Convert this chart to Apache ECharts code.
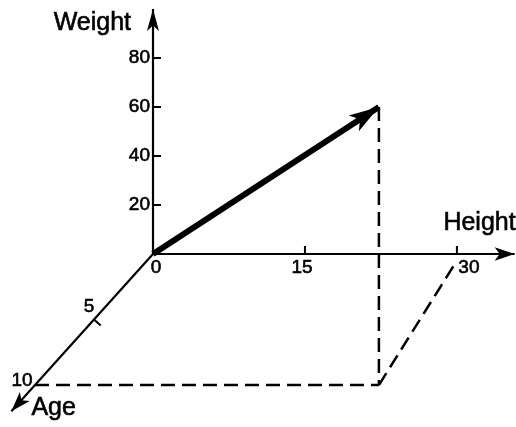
<!DOCTYPE html>
<html>
<head>
<meta charset="utf-8">
<script src="https://cdn.jsdelivr.net/npm/echarts@6/dist/echarts.min.js"></script>
<style>
  html, body { margin: 0; background: #fff; }
  #chart { width: 516px; height: 427px; }
</style>
</head>
<body>
<div id="chart"></div>
<script>
// tick values on the three axes
var weightTicks = [20, 40, 60, 80];
var heightTicks = [0, 15, 30];
var ageTicks = [5, 10];
var axisNames = ["Weight", "Height", "Age"];

// where each axis arrow ends (axis units)
var weightAxisEnd = 100;
var heightAxisEnd = 35.7;
var ageAxisEnd = 12;

// the vector and its projection box
var vecHeight = 22.3;
var vecWeight = 60;
var vecAge = 10;
var slantEnd = [29.8, -4]; // top of the slanted dashed line, near Height = 30

// Age axis is drawn oblique: one year of age moves this much in (height, weight)
var ageDir = [-1.165, -5.35];
function proj(age, h, w) {
  return [h + age * ageDir[0], w + age * ageDir[1]];
}

// picture layout: origin in pixels and pixels per unit
var W = 516, H = 427;
var ox = 153, oy = 254;
var pxH = 10.13, pxW = 2.45;

var FONT_TICK = '19px "Liberation Sans", Arial, sans-serif';
var FONT_NAME = '25px "Liberation Sans", Arial, sans-serif';
// scanned print looks a bit heavy, so the text gets a thin outline
function txt(s, font, align) {
  return { text: s, font: font, fill: "#000", stroke: "#000", lineWidth: 0.6, align: align, verticalAlign: "middle" };
}

var myChart = echarts.init(document.getElementById("chart"));

function arrow(from, to, width, head) {
  return {
    type: "line",
    data: [from, to],
    symbol: "none",
    silent: true,
    animation: false,
    lineStyle: { opacity: 0 },
    markLine: {
      silent: true,
      animation: false,
      symbol: ["none", "arrow"],
      symbolSize: head,
      label: { show: false },
      lineStyle: { color: "#000", width: width, type: "solid", opacity: 1 },
      data: [[{ coord: from }, { coord: to }]]
    }
  };
}

function dashed(points) {
  return {
    type: "line",
    data: points,
    symbol: "none",
    silent: true,
    animation: false,
    lineStyle: { color: "#000", width: 2.5, type: [14, 7] }
  };
}

var corner = [vecHeight, proj(vecAge, 0, 0)[1]];

// label offsets (pixels) for the Height tick labels
var heightLabelDx = [3, -3, 12];

var option = {
  backgroundColor: "#fff",
  animation: false,
  grid: { left: 0, right: 0, top: 0, bottom: 0 },
  xAxis: { type: "value", min: -ox / pxH, max: (W - ox) / pxH, show: false },
  yAxis: { type: "value", min: -(H - oy) / pxW, max: oy / pxW, show: false },
  series: [
    // dashed projection lines
    dashed([[vecHeight, vecWeight], corner]),
    dashed([proj(vecAge, 0, 0), corner]),
    dashed([corner, slantEnd]),
    // axes
    arrow([0, 0], [0, weightAxisEnd], 2.2, [9, 22]),
    arrow([0, 0], [heightAxisEnd, 0], 2.2, [10, 20]),
    arrow([0, 0], proj(ageAxisEnd, 0, 0), 2.2, [10, 20]),
    // the vector
    arrow([0, 0], [vecHeight, vecWeight], 6, [14, 30]),
    // weight ticks
    {
      type: "custom",
      silent: true,
      animation: false,
      data: weightTicks.map(function (w) { return [0, w]; }),
      renderItem: function (params, api) {
        var p = api.coord([api.value(0), api.value(1)]);
        return {
          type: "group",
          children: [
            { type: "line", shape: { x1: p[0], y1: p[1], x2: p[0] + 8, y2: p[1] }, style: { stroke: "#000", lineWidth: 2 } },
            { type: "text", x: p[0] - 3, y: p[1], style: txt(String(api.value(1)), FONT_TICK, "right") }
          ]
        };
      }
    },
    // height ticks
    {
      type: "custom",
      silent: true,
      animation: false,
      data: heightTicks.map(function (h) { return [h, 0]; }),
      renderItem: function (params, api) {
        var p = api.coord([api.value(0), api.value(1)]);
        var kids = [
          { type: "text", x: p[0] + heightLabelDx[params.dataIndex], y: p[1] + 14, style: txt(String(api.value(0)), FONT_TICK, "center") }
        ];
        if (api.value(0) !== 0) {
          kids.push({ type: "line", shape: { x1: p[0], y1: p[1], x2: p[0], y2: p[1] - 8 }, style: { stroke: "#000", lineWidth: 2 } });
        }
        return { type: "group", children: kids };
      }
    },
    // age ticks
    {
      type: "custom",
      silent: true,
      animation: false,
      data: ageTicks.map(function (a) { return proj(a, 0, 0).concat([a]); }),
      renderItem: function (params, api) {
        var p = api.coord([api.value(0), api.value(1)]);
        var o = api.coord([0, 0]);
        var q = api.coord(proj(1, 0, 0));
        var dx = q[0] - o[0], dy = q[1] - o[1];
        var len = Math.sqrt(dx * dx + dy * dy);
        dx /= len; dy /= len;
        var a = api.value(2);
        var kids = [];
        if (a < vecAge) {
          kids.push({ type: "line", shape: { x1: p[0], y1: p[1], x2: p[0] + dy * 9, y2: p[1] - dx * 9 }, style: { stroke: "#000", lineWidth: 2 } });
          kids.push({ type: "text", x: p[0] - 5, y: p[1] - 13, style: txt(String(a), FONT_TICK, "center") });
        } else {
          kids.push({ type: "text", x: p[0] - 13, y: p[1] - 4, style: txt(String(a), FONT_TICK, "center") });
        }
        return { type: "group", children: kids };
      }
    },
    // axis names
    {
      type: "custom",
      silent: true,
      animation: false,
      data: [
        [0, weightAxisEnd, 0],
        [heightAxisEnd, 0, 1],
        proj(ageAxisEnd, 0, 0).concat([2])
      ],
      renderItem: function (params, api) {
        var p = api.coord([api.value(0), api.value(1)]);
        var i = api.value(2);
        var pos = [
          { x: p[0] - 22, y: p[1] + 14, align: "right" },
          { x: p[0] + 1, y: p[1] - 31, align: "right" },
          { x: p[0] + 20, y: p[1] - 3, align: "left" }
        ][i];
        return {
          type: "text",
          x: pos.x,
          y: pos.y,
          style: txt(axisNames[i], FONT_NAME, pos.align)
        };
      }
    }
  ]
};

myChart.setOption(option);
</script>
</body>
</html>
